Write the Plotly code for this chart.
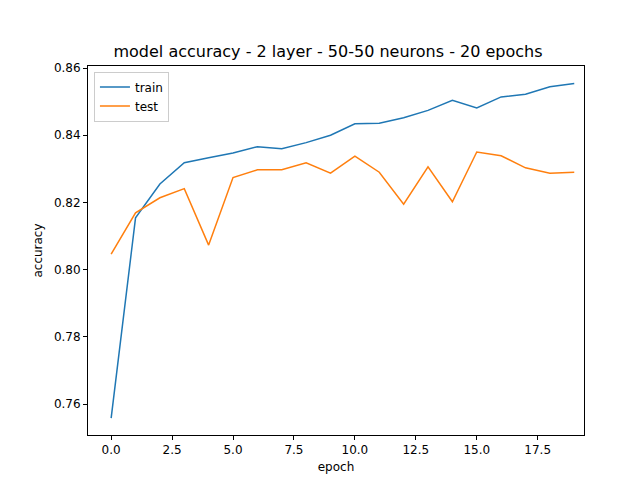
import plotly.graph_objects as go

epochs = list(range(20))
train = [0.7558, 0.8154, 0.8255, 0.8318, 0.8333, 0.8347, 0.8366, 0.8360, 0.8378, 0.8400,
         0.8434, 0.8436, 0.8452, 0.8474, 0.8504, 0.8481, 0.8514, 0.8522, 0.8544, 0.8554]
test = [0.8046, 0.8169, 0.8214, 0.8241, 0.8073, 0.8274, 0.8297, 0.8297, 0.8318, 0.8287,
        0.8338, 0.8290, 0.8195, 0.8306, 0.8202, 0.8350, 0.8339, 0.8303, 0.8287, 0.8290]
xticks = [0.0, 2.5, 5.0, 7.5, 10.0, 12.5, 15.0, 17.5]
yticks = [0.76, 0.78, 0.80, 0.82, 0.84, 0.86]

fig = go.Figure()
fig.add_trace(go.Scatter(x=epochs, y=train, mode="lines", name="train", line=dict(color="#1f77b4", width=1.5)))
fig.add_trace(go.Scatter(x=epochs, y=test, mode="lines", name="test", line=dict(color="#ff7f0e", width=1.5)))

axis = dict(showgrid=False, zeroline=False, showline=True, linecolor="black", linewidth=1, mirror=True,
            ticks="outside", ticklen=4, tickcolor="black", tickfont=dict(size=12, color="black"))
fig.update_layout(
    width=640, height=480, paper_bgcolor="white", plot_bgcolor="white",
    font=dict(family="DejaVu Sans", color="black"),
    margin=dict(l=80, r=64, t=58, b=53),
    title=dict(text="model accuracy - 2 layer - 50-50 neurons - 20 epochs", x=0.5, xanchor="center",
               y=1 - 43/480, yanchor="middle", font=dict(size=16)),
    xaxis=dict(axis, range=[-0.95, 19.95 - 0.55], tickvals=xticks, ticktext=[f"{v:.1f}" for v in xticks],
               title=dict(text="epoch", font=dict(size=12), standoff=6)),
    yaxis=dict(axis, range=[0.7508, 0.8606], tickvals=yticks, ticktext=[f"{v:.2f}" for v in yticks],
               title=dict(text="accuracy", font=dict(size=12), standoff=8)),
    legend=dict(x=0.012, y=0.985, xanchor="left", yanchor="top", bordercolor="#cccccc", borderwidth=1,
                bgcolor="rgba(255,255,255,0.8)", font=dict(size=12)),
    showlegend=True,
)
fig.write_html("out.html")
